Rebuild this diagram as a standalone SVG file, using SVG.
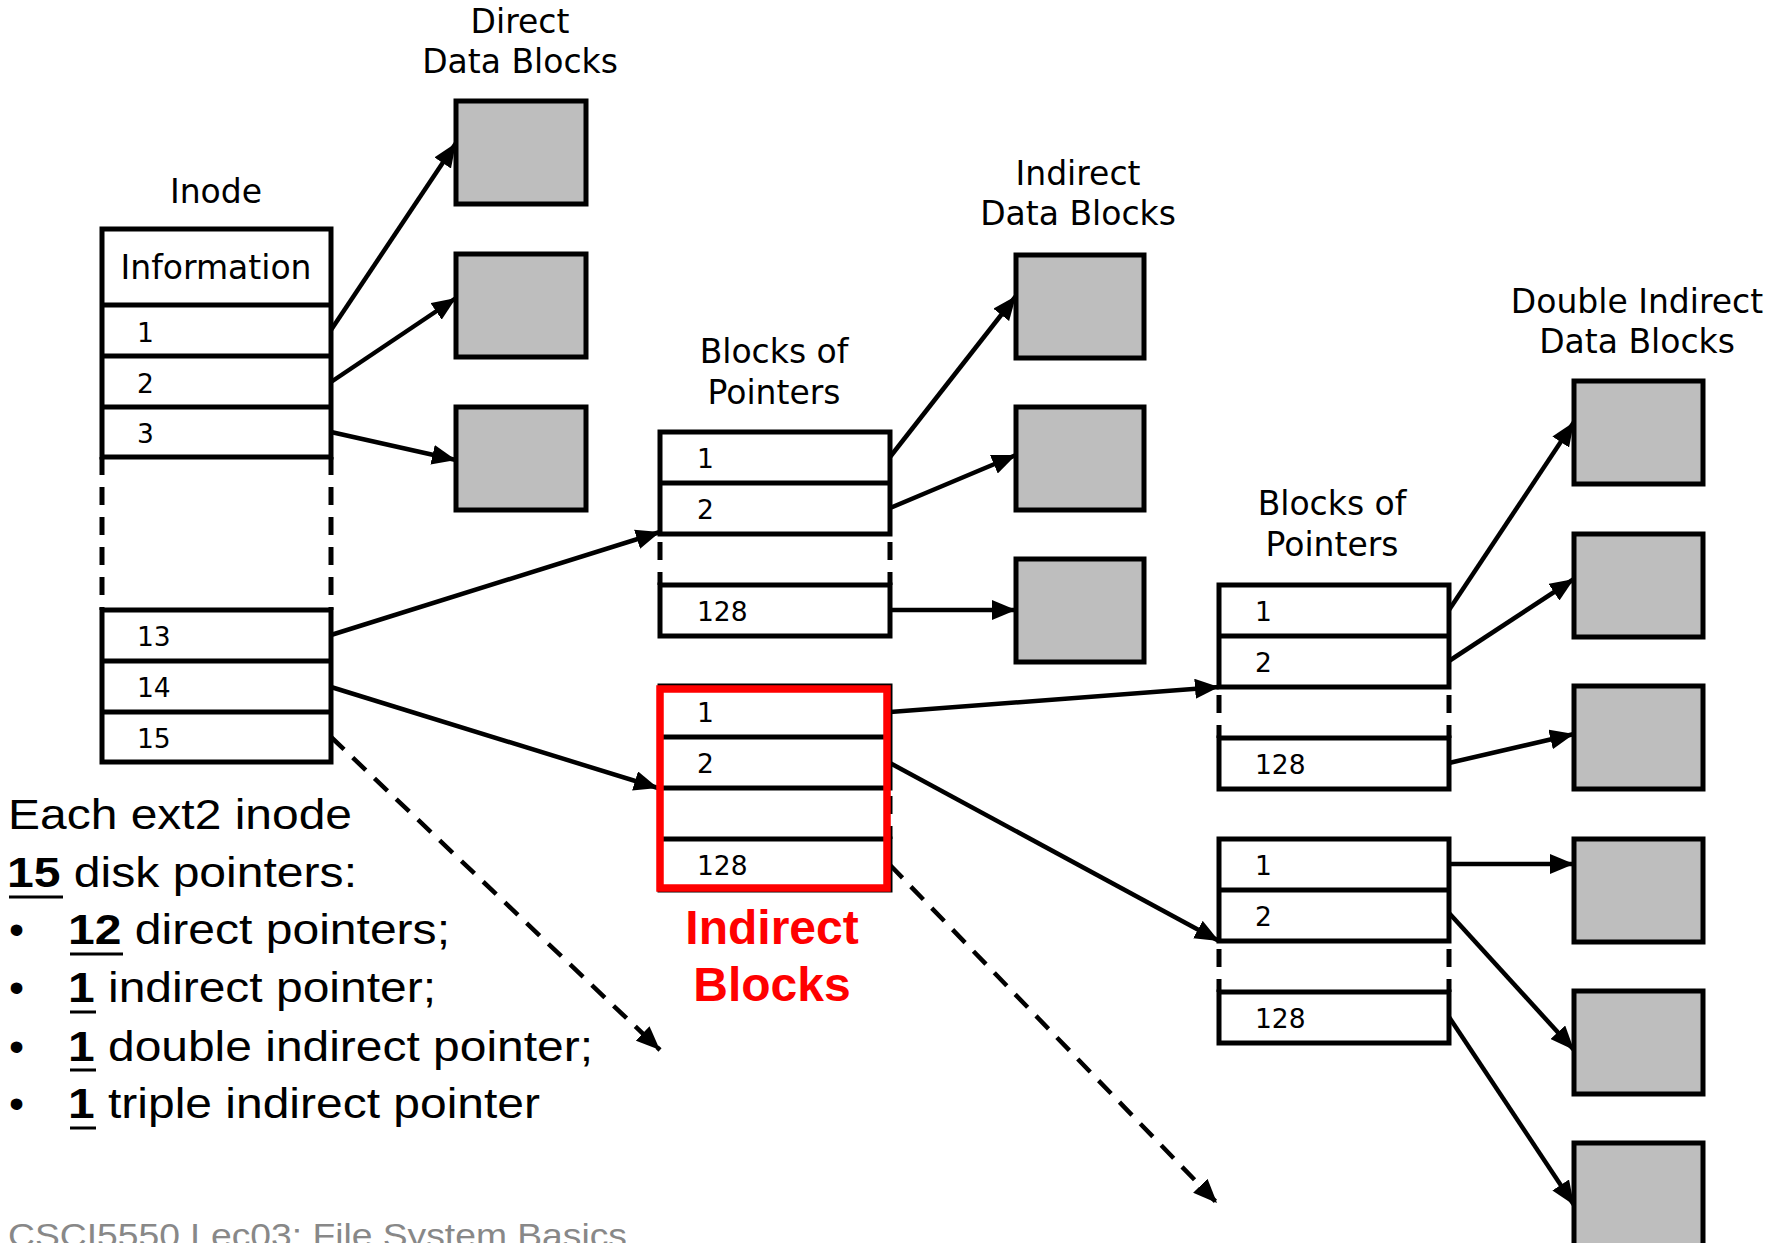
<svg xmlns="http://www.w3.org/2000/svg" width="1784" height="1243" viewBox="0 0 1784 1243">
  <style>
    .cell { fill: #ffffff; stroke: #000000; stroke-width: 5; }
    .sep { stroke: #000000; stroke-width: 5; }
    .gap { stroke: #000000; stroke-width: 5; stroke-dasharray: 18 12; }
    .gapb { stroke: #000000; stroke-width: 5; stroke-dasharray: 18 12; stroke-dashoffset: 22; }
    .data { fill: #bebebe; stroke: #000000; stroke-width: 5; }
    .arrow { fill: none; stroke: #000000; stroke-width: 4.5; marker-end: url(#arrowhead); }
    .dashed { stroke-dasharray: 18 12; }
    .head { font-family: "DejaVu Sans", sans-serif; font-size: 33px; text-anchor: middle; fill: #000000; }
    .num { font-family: "DejaVu Sans", sans-serif; font-size: 26.5px; fill: #000000; }
    .note { font-family: "Liberation Sans", Arial, sans-serif; font-size: 43px; fill: #000000; }
    .ul { stroke: #000000; stroke-width: 3; }
    .hl { fill: none; stroke: #ff0000; stroke-width: 7.5; }
    .hltext { font-family: "Liberation Sans", Arial, sans-serif; font-size: 48px; font-weight: bold; fill: #ff0000; text-anchor: middle; }
    .footer { font-family: "Liberation Sans", Arial, sans-serif; font-size: 34px; fill: #888888; }
  </style>
  <defs>
    <marker id="arrowhead" viewBox="-24 -10 24 20" refX="0" refY="0" markerWidth="24" markerHeight="20" markerUnits="userSpaceOnUse" orient="auto">
      <path d="M0,0 L-24,-10 L-24,10 Z" fill="#000000"/>
    </marker>
  </defs>

  <rect x="0" y="0" width="1784" height="1243" fill="#ffffff"/>

  <!-- pointer connectors -->
  <g id="connectors">
    <!-- inode direct pointers -->
    <line class="arrow" x1="331" y1="330" x2="456" y2="143"/>
    <line class="arrow" x1="331" y1="382" x2="456" y2="298"/>
    <line class="arrow" x1="331" y1="432" x2="456" y2="460"/>
    <!-- inode 13, 14, 15 -->
    <line class="arrow" x1="331" y1="635" x2="660" y2="532"/>
    <line class="arrow" x1="331" y1="687" x2="658" y2="788"/>
    <line class="arrow dashed" x1="331" y1="737" x2="660" y2="1050"/>
    <!-- single indirect block -->
    <line class="arrow" x1="890" y1="457" x2="1016" y2="296"/>
    <line class="arrow" x1="890" y1="508" x2="1016" y2="455"/>
    <line class="arrow" x1="890" y1="610" x2="1016" y2="610"/>
    <!-- double indirect block -->
    <line class="arrow" x1="890" y1="712" x2="1219" y2="687"/>
    <line class="arrow" x1="890" y1="763" x2="1219" y2="941"/>
    <line class="arrow dashed" x1="890" y1="865" x2="1217" y2="1203"/>
    <!-- second level block A -->
    <line class="arrow" x1="1449" y1="610" x2="1574" y2="422"/>
    <line class="arrow" x1="1449" y1="661" x2="1574" y2="579"/>
    <line class="arrow" x1="1449" y1="763" x2="1574" y2="734"/>
    <!-- second level block B -->
    <line class="arrow" x1="1449" y1="864" x2="1574" y2="864"/>
    <line class="arrow" x1="1449" y1="913" x2="1574" y2="1050"/>
    <line class="arrow" x1="1449" y1="1017" x2="1574" y2="1205"/>
  </g>

  <!-- inode table -->
  <g id="inode">
    <text class="head" x="216" y="203">Inode</text>
    <rect class="cell" x="102" y="229" width="229" height="228"/>
    <line class="sep" x1="102" y1="305" x2="331" y2="305"/>
    <line class="sep" x1="102" y1="356" x2="331" y2="356"/>
    <line class="sep" x1="102" y1="407" x2="331" y2="407"/>
    <line class="gap" x1="102" y1="457" x2="102" y2="610"/>
    <line class="gap" x1="331" y1="457" x2="331" y2="610"/>
    <rect class="cell" x="102" y="610" width="229" height="152"/>
    <line class="sep" x1="102" y1="661" x2="331" y2="661"/>
    <line class="sep" x1="102" y1="712" x2="331" y2="712"/>
    <text class="head" x="216" y="279">Information</text>
    <text class="num" x="137" y="342">1</text>
    <text class="num" x="137" y="393">2</text>
    <text class="num" x="137" y="443">3</text>
    <text class="num" x="137" y="646">13</text>
    <text class="num" x="137" y="697">14</text>
    <text class="num" x="137" y="748">15</text>
  </g>

  <!-- direct data blocks -->
  <g id="direct-blocks">
    <text class="head" x="520" y="33">Direct</text>
    <text class="head" x="520" y="73">Data Blocks</text>
    <rect class="data" x="456" y="101" width="130" height="103"/>
    <rect class="data" x="456" y="254" width="130" height="103"/>
    <rect class="data" x="456" y="407" width="130" height="103"/>
  </g>

  <!-- single indirect pointer block -->
  <g id="pointer-block-1">
    <text class="head" x="774" y="363">Blocks of</text>
    <text class="head" x="774" y="404">Pointers</text>
    <rect class="cell" x="660" y="432" width="230" height="102"/>
    <line class="sep" x1="660" y1="483" x2="890" y2="483"/>
    <line class="gapb" x1="660" y1="534" x2="660" y2="585"/>
    <line class="gapb" x1="890" y1="534" x2="890" y2="585"/>
    <rect class="cell" x="660" y="585" width="230" height="51"/>
    <text class="num" x="697" y="468">1</text>
    <text class="num" x="697" y="519">2</text>
    <text class="num" x="697" y="621">128</text>
  </g>

  <!-- indirect data blocks -->
  <g id="indirect-blocks">
    <text class="head" x="1078" y="185">Indirect</text>
    <text class="head" x="1078" y="225">Data Blocks</text>
    <rect class="data" x="1016" y="255" width="128" height="103"/>
    <rect class="data" x="1016" y="407" width="128" height="103"/>
    <rect class="data" x="1016" y="559" width="128" height="103"/>
  </g>

  <!-- double indirect first level block, highlighted -->
  <g id="pointer-block-2">
    <rect class="cell" x="660" y="686" width="230" height="102"/>
    <line class="sep" x1="660" y1="737" x2="890" y2="737"/>
    <line class="gapb" x1="660" y1="788" x2="660" y2="839"/>
    <line class="gapb" x1="890" y1="788" x2="890" y2="839"/>
    <rect class="cell" x="660" y="839" width="230" height="51"/>
    <text class="num" x="697" y="722">1</text>
    <text class="num" x="697" y="773">2</text>
    <text class="num" x="697" y="875">128</text>
    <rect class="hl" x="660" y="689" width="227" height="199"/>
    <text class="hltext" x="772" y="944">Indirect</text>
    <text class="hltext" x="772" y="1001">Blocks</text>
  </g>

  <!-- second level pointer blocks -->
  <g id="pointer-block-a">
    <text class="head" x="1332" y="515">Blocks of</text>
    <text class="head" x="1332" y="556">Pointers</text>
    <rect class="cell" x="1219" y="585" width="230" height="102"/>
    <line class="sep" x1="1219" y1="636" x2="1449" y2="636"/>
    <line class="gapb" x1="1219" y1="687" x2="1219" y2="738"/>
    <line class="gapb" x1="1449" y1="687" x2="1449" y2="738"/>
    <rect class="cell" x="1219" y="738" width="230" height="51"/>
    <text class="num" x="1255" y="621">1</text>
    <text class="num" x="1255" y="672">2</text>
    <text class="num" x="1255" y="774">128</text>
  </g>

  <g id="pointer-block-b">
    <rect class="cell" x="1219" y="839" width="230" height="102"/>
    <line class="sep" x1="1219" y1="890" x2="1449" y2="890"/>
    <line class="gapb" x1="1219" y1="941" x2="1219" y2="992"/>
    <line class="gapb" x1="1449" y1="941" x2="1449" y2="992"/>
    <rect class="cell" x="1219" y="992" width="230" height="51"/>
    <text class="num" x="1255" y="875">1</text>
    <text class="num" x="1255" y="926">2</text>
    <text class="num" x="1255" y="1028">128</text>
  </g>

  <!-- double indirect data blocks -->
  <g id="double-indirect-blocks">
    <text class="head" x="1637" y="313">Double Indirect</text>
    <text class="head" x="1637" y="353">Data Blocks</text>
    <rect class="data" x="1574" y="381" width="129" height="103"/>
    <rect class="data" x="1574" y="534" width="129" height="103"/>
    <rect class="data" x="1574" y="686" width="129" height="103"/>
    <rect class="data" x="1574" y="839" width="129" height="103"/>
    <rect class="data" x="1574" y="991" width="129" height="103"/>
    <rect class="data" x="1574" y="1143" width="129" height="103"/>
  </g>

  <!-- explanatory notes -->
  <g id="notes">
    <text class="note" x="8" y="829" textLength="344" lengthAdjust="spacingAndGlyphs">Each ext2 inode</text>
    <text class="note" x="7" y="887" textLength="350" lengthAdjust="spacingAndGlyphs"><tspan font-weight="bold">15</tspan> disk pointers:</text>
    <text class="note" x="9" y="944">•</text>
    <text class="note" x="68" y="944" textLength="382" lengthAdjust="spacingAndGlyphs"><tspan font-weight="bold">12</tspan> direct pointers;</text>
    <text class="note" x="9" y="1002">•</text>
    <text class="note" x="68" y="1002" textLength="368" lengthAdjust="spacingAndGlyphs"><tspan font-weight="bold">1</tspan> indirect pointer;</text>
    <text class="note" x="9" y="1061">•</text>
    <text class="note" x="68" y="1061" textLength="525" lengthAdjust="spacingAndGlyphs"><tspan font-weight="bold">1</tspan> double indirect pointer;</text>
    <text class="note" x="9" y="1118">•</text>
    <text class="note" x="68" y="1118" textLength="472" lengthAdjust="spacingAndGlyphs"><tspan font-weight="bold">1</tspan> triple indirect pointer</text>
    <line class="ul" x1="9" y1="897" x2="63" y2="897"/>
    <line class="ul" x1="70" y1="954" x2="123" y2="954"/>
    <line class="ul" x1="70" y1="1012" x2="96" y2="1012"/>
    <line class="ul" x1="70" y1="1070" x2="96" y2="1070"/>
    <line class="ul" x1="70" y1="1128" x2="96" y2="1128"/>
  </g>

  <text class="footer" x="8" y="1247" textLength="619" lengthAdjust="spacingAndGlyphs">CSCI5550 Lec03: File System Basics</text>
</svg>
